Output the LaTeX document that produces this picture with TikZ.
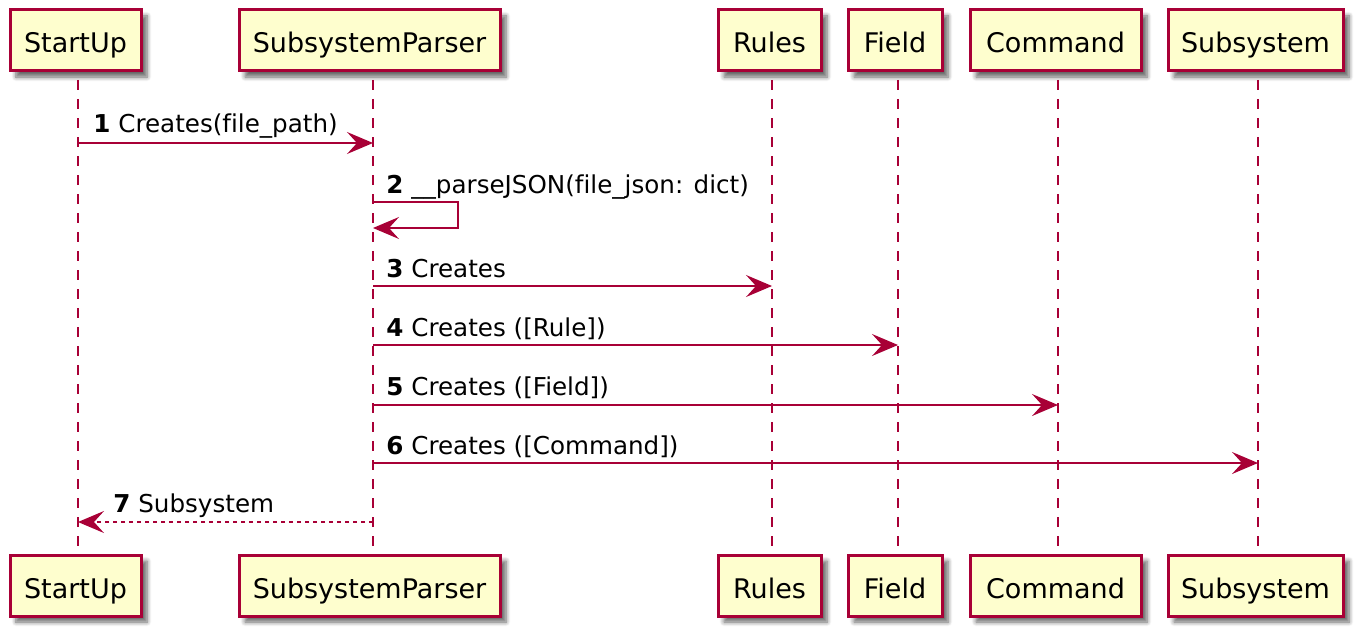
\documentclass[tikz,border=0pt]{standalone}
\usepackage{fontspec}
\setmainfont{DejaVu Sans}[Ligatures=NoCommon]
\usetikzlibrary{arrows.meta,shadows.blur}
\definecolor{umlred}{HTML}{A80036}
\definecolor{umlfill}{HTML}{FEFECE}

\begin{document}
\begin{tikzpicture}[x=0.5pt, y=-0.5pt,
    actor/.style={draw=umlred, fill=umlfill, line width=1.5pt, minimum height=30.5pt, inner sep=0pt,
        text height=15pt, text depth=2.5pt, font=\fontsize{13.5}{16}\selectfont,
        blur shadow={shadow xshift=3pt, shadow yshift=-3pt, shadow blur steps=6, shadow opacity=60}},
    lifeline/.style={umlred, line width=0.6pt, dash pattern=on 5pt off 4.5pt},
    msg/.style={umlred, line width=0.6pt, -{Stealth[length=13pt, width=11pt, inset=5pt]}},
    reply/.style={msg, dash pattern=on 2pt off 2pt},
    lbl/.style={anchor=base west, inner sep=0pt, font=\fontsize{12.3}{14}\selectfont}]

    \useasboundingbox (0,0) rectangle (1368,642);

    % Define the points of the lifelines
    \coordinate (startL) at (78,80);
    \coordinate (parserL) at (373,80);
    \coordinate (rulesL) at (772,80);
    \coordinate (fieldL) at (898,80);
    \coordinate (commandL) at (1058,80);
    \coordinate (subsysL) at (1258,80);
    \coordinate (lifeEnd) at (0,550);

    % Define the rows of the messages
    \coordinate (row1) at (0,143);
    \coordinate (row2) at (0,202);
    \coordinate (row2b) at (0,228);
    \coordinate (row3) at (0,286);
    \coordinate (row4) at (0,345);
    \coordinate (row5) at (0,405);
    \coordinate (row6) at (0,463);
    \coordinate (row7) at (0,522);
    \coordinate (loopA) at (458,202);
    \coordinate (loopB) at (458,228);

    % Draw the participants
    \node[actor, minimum width=65.5pt] (startTop) at (75.5,40.5) {StartUp};
    \node[actor, minimum width=130.5pt] (parserTop) at (369.5,40.5) {SubsystemParser};
    \node[actor, minimum width=51.5pt] (rulesTop) at (769.5,40.5) {Rules};
    \node[actor, minimum width=47pt] (fieldTop) at (895,40.5) {Field};
    \node[actor, minimum width=85.5pt] (commandTop) at (1055.5,40.5) {Command};
    \node[actor, minimum width=87.5pt] (subsysTop) at (1255.5,40.5) {Subsystem};

    \node[actor, minimum width=65.5pt] (startBot) at (75.5,585.5) {StartUp};
    \node[actor, minimum width=130.5pt] (parserBot) at (369.5,585.5) {SubsystemParser};
    \node[actor, minimum width=51.5pt] (rulesBot) at (769.5,585.5) {Rules};
    \node[actor, minimum width=47pt] (fieldBot) at (895,585.5) {Field};
    \node[actor, minimum width=85.5pt] (commandBot) at (1055.5,585.5) {Command};
    \node[actor, minimum width=87.5pt] (subsysBot) at (1255.5,585.5) {Subsystem};

    % Draw the lifelines
    \draw[lifeline] (startL) -- (startL |- lifeEnd);
    \draw[lifeline] (parserL) -- (parserL |- lifeEnd);
    \draw[lifeline] (rulesL) -- (rulesL |- lifeEnd);
    \draw[lifeline] (fieldL) -- (fieldL |- lifeEnd);
    \draw[lifeline] (commandL) -- (commandL |- lifeEnd);
    \draw[lifeline] (subsysL) -- (subsysL |- lifeEnd);

    % Draw the messages
    \draw[msg] (startL |- row1) -- (parserL |- row1);
    \draw[msg] (parserL |- row2) -- (loopA) -- (loopB) -- (parserL |- row2b);
    \draw[msg] (parserL |- row3) -- (rulesL |- row3);
    \draw[msg] (parserL |- row4) -- (fieldL |- row4);
    \draw[msg] (parserL |- row5) -- (commandL |- row5);
    \draw[msg] (parserL |- row6) -- (subsysL |- row6);
    \draw[reply] (parserL |- row7) -- (startL |- row7);

    % Place the labels of the messages
    \node[lbl] (m1) at (93,133) {\textbf{1} Creates(file\_path)};
    \node[lbl] (m2) at (386,193) {\textbf{2} \_\_parseJSON(file\_json: dict)};
    \node[lbl] (m3) at (386,277) {\textbf{3} Creates};
    \node[lbl] (m4) at (386,336) {\textbf{4} Creates ([Rule])};
    \node[lbl] (m5) at (386,395) {\textbf{5} Creates ([Field])};
    \node[lbl] (m6) at (386,454) {\textbf{6} Creates ([Command])};
    \node[lbl] (m7) at (113,512) {\textbf{7} Subsystem};

\end{tikzpicture}
\end{document}
